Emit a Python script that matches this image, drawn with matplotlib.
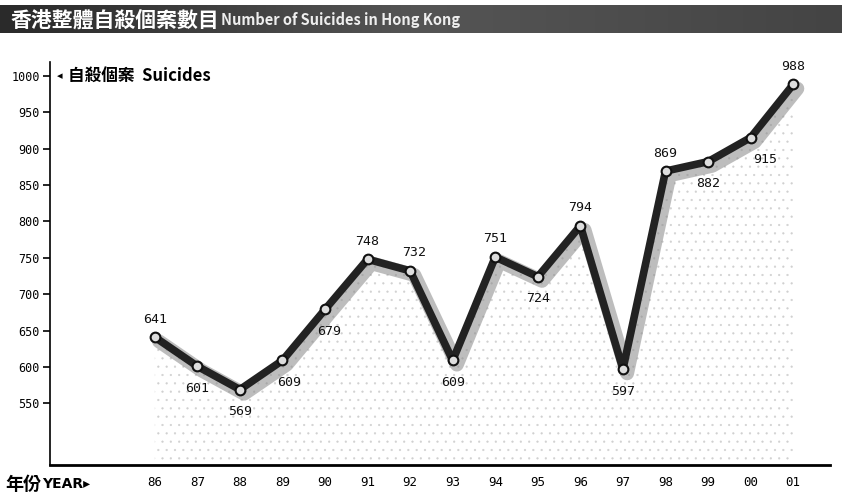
import matplotlib
matplotlib.use("Agg")
import matplotlib.pyplot as plt
import matplotlib.patheffects as pe
import numpy as np

plt.rcParams['font.family'] = ['Noto Sans CJK TC', 'DejaVu Sans']
plt.rcParams['hatch.linewidth'] = 0.35

years = ["86", "87", "88", "89", "90", "91", "92", "93", "94", "95", "96", "97", "98", "99", "00", "01"]
suicides = [641, 601, 569, 609, 679, 748, 732, 609, 751, 724, 794, 597, 869, 882, 915, 988]
yticks = [550, 600, 650, 700, 750, 800, 850, 900, 950, 1000]
# label placement: 1 = above, -1 = below
label_side = [1, -1, -1, -1, -1, 1, 1, -1, 1, -1, 1, -1, 1, -1, -1, 1]
label_dx = [0, 0, 0, 0.15, 0.1, 0, 0.1, 0, 0, 0, 0, 0, 0, 0, 0.35, 0]

fig = plt.figure(figsize=(8.42, 4.95), dpi=100)
fig.patch.set_facecolor('white')

# title bar
bar = fig.add_axes([0.0, 0.933, 1.0, 0.057])
bar.set_xlim(0, 1); bar.set_ylim(0, 1)
grad = np.linspace(0, 1, 256).reshape(1, -1)
bar.imshow(grad, extent=[0, 1, 0, 1], aspect='auto',
           cmap=matplotlib.colors.LinearSegmentedColormap.from_list('g', ['#2a2a2a', '#555555', '#444444']))
bar.axis('off')
bar.text(0.012, 0.48, "香港整體自殺個案數目", color='white', fontsize=15, fontweight='bold', va='center', ha='left')
bar.text(0.262, 0.45, "Number of Suicides in Hong Kong", color='#eeeeee', fontsize=10.5, fontweight='bold',
         va='center', ha='left')

ax = fig.add_axes([0.059, 0.06, 0.927, 0.815])
x = np.arange(len(years))
ax.set_xlim(-2.47, 15.87)
ax.set_ylim(465, 1019)

# dotted fill under curve
ax.fill_between(x, suicides, 465, facecolor='none', edgecolor='#d0d0d0', hatch='..', linewidth=0)

ax.plot(x, suicides, color='#222222', linewidth=5.5, solid_joinstyle='round', solid_capstyle='round',
        path_effects=[pe.SimpleLineShadow(offset=(3, -3), shadow_color='#888888', alpha=0.55, linewidth=10),
                      pe.Normal()],
        zorder=3)
ax.plot(x, suicides, linestyle='none', marker='o', markersize=7, markerfacecolor='#dddddd',
        markeredgecolor='#111111', markeredgewidth=1.5, zorder=4)

for i, v in enumerate(suicides):
    off = 13 if label_side[i] > 0 else -16
    ax.annotate(str(v), (x[i] + label_dx[i], v), xytext=(0, off), textcoords='offset points',
                ha='center', va='center', fontsize=9.5, family='DejaVu Sans Mono', color='#111111')

ax.set_yticks(yticks)
ax.set_yticklabels([str(t) for t in yticks], family='DejaVu Sans Mono', fontsize=8.5)
ax.set_xticks(x)
ax.set_xticklabels(years, family='DejaVu Sans Mono', fontsize=9)
ax.tick_params(axis='y', length=5, width=1.2, direction='out', pad=2)
ax.tick_params(axis='x', length=0, pad=8)
for s in ['top', 'right']:
    ax.spines[s].set_visible(False)
ax.spines['left'].set_linewidth(1.2)
ax.spines['bottom'].set_linewidth(2)

ax.text(-2.3, 1000, "◂", fontsize=8, va='center', ha='left', family=['DejaVu Sans'])
ax.text(-2.05, 1000, "自殺個案  Suicides", fontsize=12, va='center', ha='left', fontweight='bold')

fig.text(0.006, 0.022, "年份", fontsize=13, fontweight='bold', va='center', ha='left')
fig.text(0.05, 0.022, "YEAR▸", fontsize=10, fontweight='bold', va='center', ha='left', family=['DejaVu Sans'])

fig.savefig("out.png", dpi=100)
